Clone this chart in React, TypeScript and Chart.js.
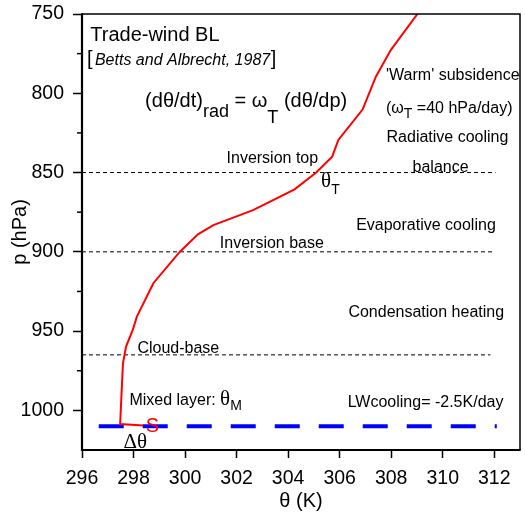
import React, { useEffect, useRef } from 'react';
import { Chart, registerables } from 'chart.js';

Chart.register(...registerables);

// ---- data ----
const THETA_PROFILE = [298.38, 297.48, 297.59, 297.71, 297.97, 298.13, 298.77, 299.8, 300.5, 301.1, 302.64, 304.25, 305.09, 305.71, 305.95, 306.89, 307.41, 307.99, 309.02];
const P_PROFILE = [1009.6, 1008.6, 970.3, 959.8, 949.3, 940.9, 919.8, 899.9, 889, 883.2, 873.7, 860.6, 850, 840, 829.4, 810.3, 789.4, 772.6, 750];

const MIXED_TOP_P = 1010;
const MIXED_TOP_THETA = [296.65, 312.1];

const LEVEL_NAMES = ['Inversion top', 'Inversion base', 'Cloud-base'];
const LEVEL_P = [850, 900, 965];
const LEVEL_THETA_START = [296, 296, 296];
const LEVEL_THETA_END = [312.05, 312.0, 311.85];

const X_TICKS = [296, 298, 300, 302, 304, 306, 308, 310, 312];
const Y_TICKS = [750, 800, 850, 900, 950, 1000];
const Y_MINOR_TICKS = [775, 825, 875, 925, 975];

const SANS = '"Liberation Sans", Arial, sans-serif';
const SERIF = '"Liberation Serif", "Times New Roman", serif';

type Run = { text: string; font: string; dy?: number; dx?: number; color?: string };
type Note = { theta: number; p: number; runs: Run[] };

const f = (size: number, family = SANS, style = '') => `${style} ${size}px ${family}`.trim();

const NOTES: Note[] = [
  { theta: 296.32, p: 767.3, runs: [{ text: 'Trade-wind BL', font: f(20) }] },
  {
    theta: 296.19, p: 782.2, runs: [
      { text: '[', font: f(20) },
      { text: 'Betts and Albrecht, 1987', font: f(16, SANS, 'italic'), dx: 2.5 },
      { text: ']', font: f(20), dx: 0.5 },
    ],
  },
  {
    theta: 298.45, p: 808.5, runs: [
      { text: '(dθ/dt)', font: f(20) },
      { text: 'rad', font: f(18), dy: 10 },
      { text: ' = ω', font: f(20) },
      { text: 'T', font: f(18), dy: 16 },
      { text: ' (dθ/dp)', font: f(20) },
    ],
  },
  { theta: 307.8, p: 791.6, runs: [{ text: "'Warm' subsidence", font: f(16) }] },
  {
    theta: 307.8, p: 812.6, runs: [
      { text: '(ω', font: f(16) },
      { text: 'T', font: f(14), dy: 5 },
      { text: ' =40 hPa/day)', font: f(16) },
    ],
  },
  { theta: 307.82, p: 830.5, runs: [{ text: 'Radiative cooling', font: f(16) }] },
  { theta: 308.83, p: 849.5, runs: [{ text: 'balance', font: f(16) }] },
  { theta: 301.61, p: 844.2, runs: [{ text: 'Inversion top', font: f(16) }] },
  {
    theta: 305.28, p: 858.9, runs: [
      { text: 'θ', font: f(21, SERIF) },
      { text: 'T', font: f(14), dy: 7 },
    ],
  },
  { theta: 306.64, p: 886.2, runs: [{ text: 'Evaporative cooling', font: f(16) }] },
  { theta: 301.35, p: 897.8, runs: [{ text: 'Inversion base', font: f(16) }] },
  { theta: 306.34, p: 940.9, runs: [{ text: 'Condensation heating', font: f(16) }] },
  { theta: 298.15, p: 964.0, runs: [{ text: 'Cloud-base', font: f(16) }] },
  {
    theta: 297.84, p: 996.6, runs: [
      { text: 'Mixed layer: ', font: f(16) },
      { text: 'θ', font: f(21, SERIF) },
      { text: 'M', font: f(14), dy: 5 },
    ],
  },
  { theta: 306.31, p: 997.7, runs: [{ text: 'LWcooling= -2.5K/day', font: f(16) }] },
  { theta: 298.47, p: 1013.6, runs: [{ text: 'S', font: f(20), color: '#ff0000' }] },
  { theta: 297.61, p: 1024.0, runs: [{ text: 'Δθ', font: f(21, SERIF) }] },
];

const overlay = {
  id: 'overlay',
  afterDraw(chart: any) {
    const { ctx, chartArea: a, scales } = chart;
    const x = scales.x;
    const y = scales.y;
    ctx.save();
    ctx.strokeStyle = '#000';
    ctx.lineWidth = 1.5;
    Y_MINOR_TICKS.forEach((v) => {
      const py = y.getPixelForValue(v);
      ctx.beginPath();
      ctx.moveTo(a.left - 5, py);
      ctx.lineTo(a.left, py);
      ctx.stroke();
    });
    // frame
    ctx.lineWidth = 1.5;
    ctx.beginPath();
    ctx.moveTo(a.left, a.top);
    ctx.lineTo(a.right, a.top);
    ctx.lineTo(a.right, a.bottom);
    ctx.stroke();
    ctx.lineWidth = 2.2;
    ctx.beginPath();
    ctx.moveTo(a.left, a.top - 0.7);
    ctx.lineTo(a.left, a.bottom);
    ctx.lineTo(a.right + 0.7, a.bottom);
    ctx.stroke();
    // notes
    ctx.textBaseline = 'alphabetic';
    ctx.textAlign = 'left';
    NOTES.forEach((n) => {
      let px = x.getPixelForValue(n.theta);
      const py = y.getPixelForValue(n.p);
      n.runs.forEach((r) => {
        ctx.font = r.font;
        ctx.fillStyle = r.color || '#000';
        px += r.dx || 0;
        ctx.fillText(r.text, px, py + (r.dy || 0));
        px += ctx.measureText(r.text).width;
      });
    });
    ctx.restore();
  },
};

export default function App() {
  const ref = useRef<HTMLCanvasElement | null>(null);
  useEffect(() => {
    if (!ref.current) return;
    const levelSets = LEVEL_P.map((p, i) => ({
      label: LEVEL_NAMES[i],
      data: [
        { x: LEVEL_THETA_START[i], y: p },
        { x: LEVEL_THETA_END[i], y: p },
      ],
      borderColor: '#000',
      borderWidth: 1,
      borderDash: [4, 3],
      pointRadius: 0,
      fill: false,
    }));
    const chart = new Chart(ref.current, {
      type: 'line',
      data: {
        datasets: [
          {
            label: 'theta',
            data: THETA_PROFILE.map((t, i) => ({ x: t, y: P_PROFILE[i] })),
            borderColor: '#ff0000',
            borderWidth: 2,
            pointRadius: 0,
            tension: 0,
            fill: false,
          },
          {
            label: 'mixed top',
            data: MIXED_TOP_THETA.map((t) => ({ x: t, y: MIXED_TOP_P })),
            borderColor: '#0000ff',
            borderWidth: 4,
            borderDash: [25, 19],
            borderCapStyle: 'butt',
            pointRadius: 0,
            fill: false,
          },
          ...levelSets,
        ] as any,
      },
      options: {
        responsive: false,
        animation: false,
        parsing: false as any,
        layout: { padding: { top: 14, right: 5, left: 0, bottom: 0 } },
        plugins: { legend: { display: false }, tooltip: { enabled: false } },
        scales: {
          x: {
            type: 'linear',
            min: 296,
            max: 313,
            afterFit: (s: any) => { s.height = 74; s.paddingLeft = 0; s.paddingRight = 0; },
            afterBuildTicks: (s: any) => { s.ticks = X_TICKS.map((v) => ({ value: v })); },
            ticks: {
              color: '#000',
              font: { family: SANS, size: 19.5 },
              padding: 9,
              maxRotation: 0,
              autoSkip: false,
              callback: (v: any) => String(v),
            },
            grid: { drawOnChartArea: false, drawTicks: true, tickLength: 8, tickWidth: 1.5, tickColor: '#000' },
            border: { display: false },
            title: { display: true, text: 'θ (K)', color: '#000', font: { family: SANS, size: 20 }, padding: { top: 0, bottom: 11 } },
          },
          y: {
            type: 'linear',
            reverse: true,
            min: 750,
            max: 1025,
            afterFit: (s: any) => { s.width = 82; s.paddingTop = 0; s.paddingBottom = 0; },
            afterBuildTicks: (s: any) => { s.ticks = Y_TICKS.map((v) => ({ value: v })); },
            ticks: {
              color: '#000',
              font: { family: SANS, size: 19.5 },
              padding: 9,
              autoSkip: false,
              callback: (v: any) => String(v),
            },
            grid: { drawOnChartArea: false, drawTicks: true, tickLength: 9, tickWidth: 1.5, tickColor: '#000' },
            border: { display: false },
            title: { display: true, text: 'p (hPa)', color: '#000', font: { family: SANS, size: 20 }, padding: { top: 8, bottom: 0 } },
          },
        },
      },
      plugins: [overlay],
    });
    return () => chart.destroy();
  }, []);
  return (
    <div style={{ position: 'fixed', left: 0, top: 0, width: 525, height: 524, background: '#fff' }}>
      <canvas ref={ref} width={525} height={524} style={{ width: 525, height: 524, display: 'block' }} />
    </div>
  );
}
